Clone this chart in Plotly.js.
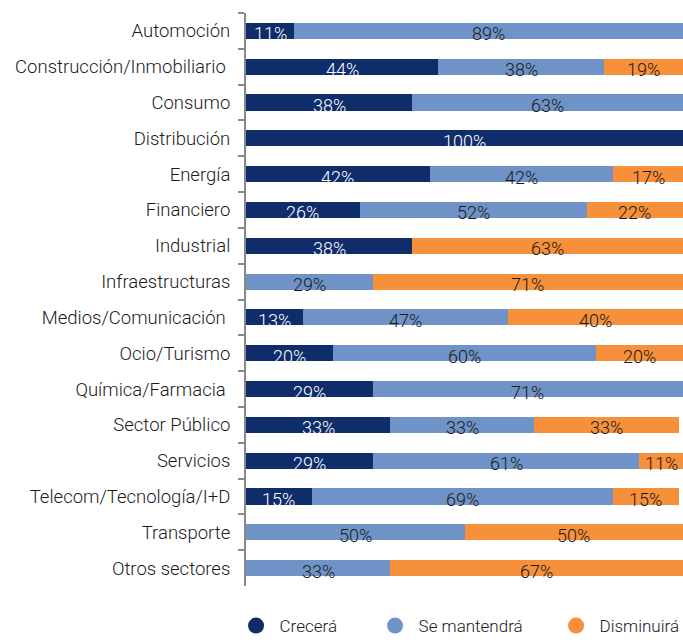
<!DOCTYPE html>
<html>
<head>
<meta charset="utf-8">
<script src="https://cdn.plot.ly/plotly-3.0.1.min.js"></script>
<style>body{margin:0;padding:0;background:#fff}#chart{width:683px;height:644px}</style>
</head>
<body>
<div id="chart"></div>
<script>
const categories = ["Automoción","Construcción/Inmobiliario\u00a0","Consumo","Distribución","Energía","Financiero","Industrial","Infraestructuras","Medios/Comunicación\u00a0","Ocio/Turismo","Química/Farmacia\u00a0","Sector Público","Servicios","Telecom/Tecnología/I+D","Transporte","Otros sectores"];
const crecera =     [11,44,38,100,42,26,38,0,13,20,29,33,29,15,0,0];
const mantendra =   [89,38,63,0,42,52,0,29,47,60,71,33,61,69,50,33];
const disminuira =  [0,19,0,0,17,22,63,71,40,20,0,33,11,15,50,67];
const seriesNames = ["Crecerá","Se mantendrá","Disminuirá"];

const colors = ["#0f2d6b","#7093c7","#f7903a"];
const textColors = ["#ffffff","#1a1a1a","#1a1a1a"];
const FONT = "Roboto, 'Liberation Sans', sans-serif";
const series = [crecera, mantendra, disminuira];
const legendIds = ["legend", "legend2", "legend3"];
const legendX = [0.3405, 0.544, 0.809];

const traces = series.map((vals, i) => ({
  type: "bar", orientation: "h", x: vals, y: categories,
  marker: {color: colors[i]}, name: seriesNames[i], showlegend: false,
  hoverinfo: "x+y"
}));
seriesNames.forEach((n, i) => traces.push({
  type: "scatter", mode: "markers", x: [null], y: [null], name: n, legend: legendIds[i],
  marker: {symbol: "circle", size: 16, color: colors[i]}, showlegend: true
}));

const annotations = [];
categories.forEach((c, j) => {
  let base = 0;
  series.forEach((vals, i) => {
    const v = vals[j];
    if (v > 0) {
      const end = Math.min(base + v, 100);
      annotations.push({x: (base + end) / 2, y: c, text: v + "%", showarrow: false,
        font: {family: FONT, size: 18, color: textColors[i], weight: 300}, yshift: -3, xref: "x", yref: "y"});
    }
    base += v;
  });
});

const layout = {
  width: 683, height: 644,
  margin: {l: 246, r: 0, t: 13, b: 58},
  barmode: "stack", bargap: 0.55,
  paper_bgcolor: "#fff", plot_bgcolor: "#fff",
  font: {family: FONT, size: 18.5, color: "#1a1a1a"},
  xaxis: {range: [0, 100], visible: false, fixedrange: true},
  yaxis: {type: "category", autorange: "reversed", showline: true, linecolor: "#888", linewidth: 2,
    ticks: "outside", tickson: "boundaries", ticklen: 6, tickcolor: "#888", tickwidth: 2,
    ticklabelstandoff: 10, showgrid: false, tickfont: {family: FONT, size: 18.5, color: "#1a1a1a", weight: 300}},
  annotations: annotations
};
legendIds.forEach((id, i) => {
  layout[id] = {orientation: "h", x: legendX[i], xref: "container", xanchor: "left",
    y: -0.008, yref: "container", yanchor: "bottom", bgcolor: "rgba(0,0,0,0)",
    font: {family: FONT, size: 17, color: "#1a1a1a", weight: 300}, itemwidth: 37};
});
Plotly.newPlot("chart", traces, layout, {displayModeBar: false, staticPlot: true});
</script>
</body>
</html>
